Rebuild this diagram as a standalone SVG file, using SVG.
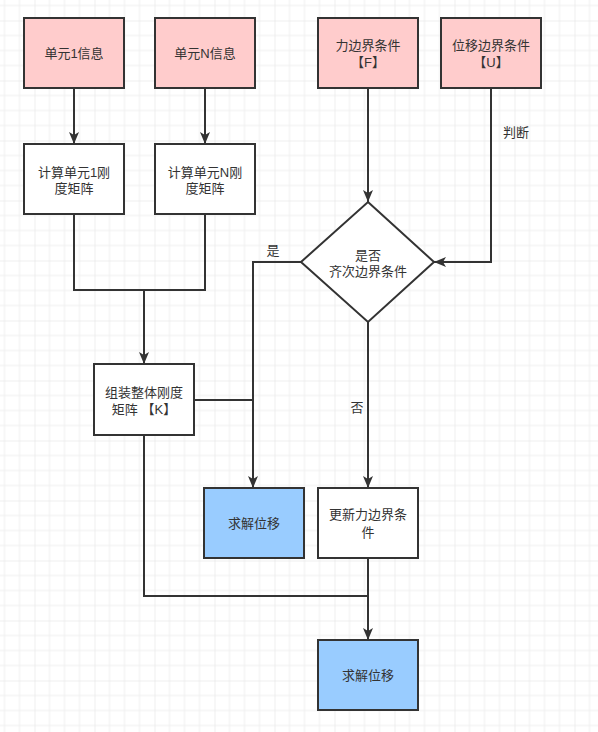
<svg xmlns="http://www.w3.org/2000/svg" width="598" height="732" viewBox="0 0 598 732">
<defs>
<pattern id="grid" patternUnits="userSpaceOnUse" x="34.5" y="20.5" width="60" height="60">
<path d="M15 0V60M30 0V60M45 0V60M0 15H60M0 30H60M0 45H60" stroke="#efefef" stroke-width="1" fill="none"/>
<path d="M0 0V60M0 0H60" stroke="#e0e0e0" stroke-width="1" fill="none"/>
</pattern>
<marker id="arr" viewBox="0 0 12 10" refX="12" refY="5" markerWidth="6" markerHeight="5" orient="auto" markerUnits="strokeWidth">
<path d="M0 0L12 5L0 10L3 5Z" fill="#333"/>
</marker>
</defs>
<style>
.box{stroke:#333;stroke-width:2}
.pink{fill:#ffcccc}
.blue{fill:#99ccff}
.white{fill:#ffffff}
.t{font-family:"Liberation Sans","Noto Sans CJK SC",sans-serif;font-size:13px;fill:#333;text-anchor:middle}
.c{stroke:#333;stroke-width:2;fill:none}
</style>
<rect width="598" height="732" fill="#ffffff"/>
<rect width="598" height="732" fill="url(#grid)"/>
<g id="connectors">
<path class="c" d="M74 88V144" marker-end="url(#arr)"/>
<path class="c" d="M205 88V144" marker-end="url(#arr)"/>
<path class="c" d="M74 214V290H205V214"/>
<path class="c" d="M144 290V364" marker-end="url(#arr)"/>
<path class="c" d="M368 88V202" marker-end="url(#arr)"/>
<path class="c" d="M491 88V262H434" marker-end="url(#arr)"/>
<path class="c" d="M301 262H253V488" marker-end="url(#arr)"/>
<path class="c" d="M194 400H253"/>
<path class="c" d="M368 322V488" marker-end="url(#arr)"/>
<path class="c" d="M144 435V596H368"/>
<path class="c" d="M368 558V640" marker-end="url(#arr)"/>
<text class="t" x="516" y="137">判断</text>
<text class="t" x="273" y="255">是</text>
<text class="t" x="357" y="412">否</text>
</g>
<g id="n1"><rect class="box pink" x="24" y="18" width="100" height="70"/><text class="t" x="74" y="58">单元1信息</text></g>
<g id="n2"><rect class="box pink" x="155" y="18" width="100" height="70"/><text class="t" x="205" y="58">单元N信息</text></g>
<g id="n3"><rect class="box pink" x="318" y="18" width="100" height="70"/><text class="t" x="368" y="50">力边界条件</text><text class="t" x="368" y="67">【F】</text></g>
<g id="n4"><rect class="box pink" x="441" y="18" width="100" height="70"/><text class="t" x="491" y="50">位移边界条件</text><text class="t" x="491" y="67">【U】</text></g>
<g id="n5"><rect class="box white" x="24" y="144" width="100" height="70"/><text class="t" x="74" y="177">计算单元1刚</text><text class="t" x="74" y="193">度矩阵</text></g>
<g id="n6"><rect class="box white" x="155" y="144" width="100" height="70"/><text class="t" x="205" y="177">计算单元N刚</text><text class="t" x="205" y="193">度矩阵</text></g>
<g id="n7"><path class="box white" d="M368 202L434 262L368 322L301 262Z"/><text class="t" x="368" y="260">是否</text><text class="t" x="368" y="276">齐次边界条件</text></g>
<g id="n8"><rect class="box white" x="94" y="364" width="100" height="71"/><text class="t" x="144" y="397">组装整体刚度</text><text class="t" x="144" y="414">矩阵 【K】</text></g>
<g id="n9"><rect class="box blue" x="204" y="488" width="100" height="70"/><text class="t" x="254" y="528">求解位移</text></g>
<g id="n10"><rect class="box white" x="318" y="488" width="100" height="70"/><text class="t" x="368" y="519">更新力边界条</text><text class="t" x="368" y="537">件</text></g>
<g id="n11"><rect class="box blue" x="318" y="640" width="100" height="70"/><text class="t" x="368" y="680">求解位移</text></g>
</svg>
